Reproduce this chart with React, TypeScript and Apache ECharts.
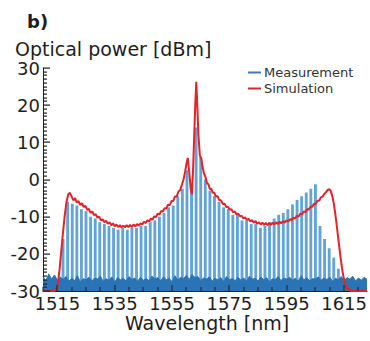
import React, { useEffect, useRef } from "react";
import * as echarts from "echarts";

const combWavelengths = [
  1517.0, 1518.6, 1520.2, 1521.8, 1523.4, 1525.0, 1526.6, 1528.2, 1529.8, 1531.4,
  1533.0, 1534.6, 1536.2, 1537.8, 1539.4, 1541.0, 1542.6, 1544.2, 1545.8, 1547.4,
  1549.0, 1550.6, 1552.2, 1553.8, 1555.4, 1557.0, 1558.6, 1560.2, 1561.8, 1563.4,
  1565.0, 1566.6, 1568.2, 1569.8, 1571.4, 1573.0, 1574.6, 1576.2, 1577.8, 1579.4,
  1581.0, 1582.6, 1584.2, 1585.8, 1587.4, 1589.0, 1590.6, 1592.2, 1593.8, 1595.4,
  1597.0, 1598.6, 1600.2, 1601.8, 1603.4, 1605.0, 1606.6, 1608.2, 1609.8, 1611.4,
  1613.0, 1614.6,
];
const combPeaks = [
  -16, -6, -6.5, -7, -8, -8.5, -10, -10.5, -11.5, -12,
  -12.5, -13, -13.5, -13, -13.5, -13, -13, -12.5, -12.5, -11.5,
  -11, -10, -9, -7.5, -7, -4.5, -2.5, 2.5, -1, 14,
  6, 0, -3, -4.5, -6, -7.5, -8, -9.5, -9, -11,
  -11, -12, -12, -13, -12.5, -11.5, -10.5, -9.5, -9, -8,
  -6.7, -5.5, -4.5, -3.5, -2.5, -1.3, -12.5, -16, -18.5, -21,
  -24, -27,
];

const floorStart = 1510;
const floorLevels = [
  -26.0, -27.3, -25.4, -26.8, -25.7, -27.1, -26.2,
  -26.9, -26.1, -27.4, -26.6, -27.2, -25.9, -27.5, -26.7, -27.0, -26.3,
  -27.3, -26.5, -26.8, -26.0, -27.4, -26.7, -27.1, -26.2, -27.6, -26.4,
  -27.0, -26.6, -27.3, -26.1, -26.9, -26.5, -27.4, -26.3, -27.1, -26.7,
  -27.2, -26.0, -26.8, -26.4, -27.3, -26.2, -27.0, -26.6, -27.5, -25.9,
  -27.1, -26.3, -26.7, -25.8, -26.9, -25.6, -26.4, -26.1, -27.2, -26.5,
  -26.8, -26.2, -27.3, -26.6, -27.0, -26.4, -27.5, -26.1, -26.9, -26.7,
  -27.2, -26.3, -27.1, -26.5, -27.4, -26.0, -26.8, -26.6, -27.3, -26.2,
  -27.0, -26.4, -27.6, -26.7, -26.9, -26.1, -27.2, -26.5, -26.8, -26.3,
  -27.1, -26.6, -27.4, -25.9, -27.0, -26.4, -27.3, -26.7, -26.8, -26.2,
  -27.1, -26.5, -26.9, -26.3, -27.4, -26.6, -27.0, -26.1, -27.2, -26.4,
  -26.8, -26.0, -27.3, -26.5, -27.1, -26.3, -26.9,
];

const simWavelengths = [
  1510, 1514, 1514.6, 1515.2, 1515.8, 1516.4, 1517.0, 1517.6, 1518.2, 1518.8,
  1519.4, 1520.0, 1520.6, 1521.2, 1521.8, 1522.4, 1523.0, 1523.6, 1524.2, 1524.8,
  1525.4, 1526.0, 1526.6, 1527.2, 1527.8, 1528.4, 1529.0, 1529.6, 1530.2, 1530.8,
  1531.4, 1532.0, 1532.6, 1533.2, 1533.8, 1534.4, 1535.0, 1535.6, 1536.2, 1536.8,
  1537.4, 1538.0, 1538.6, 1539.2, 1539.8, 1540.4, 1541.0, 1541.6, 1542.2, 1542.8,
  1543.4, 1544.0, 1544.6, 1545.2, 1545.8, 1546.4, 1547.0, 1547.6, 1548.2, 1548.8,
  1549.4, 1550.0, 1550.6, 1551.2, 1551.8, 1552.4, 1553.0, 1553.6, 1554.2, 1554.8,
  1555.4, 1556.0, 1556.6, 1557.2, 1557.8, 1558.4, 1559.0, 1559.5, 1560.0, 1560.5,
  1561.0, 1561.5, 1561.9, 1562.3, 1562.7, 1563.1, 1563.45, 1563.8, 1564.2, 1564.7,
  1565.2, 1565.7, 1566.2, 1566.7, 1567.2, 1567.7, 1568.2, 1568.7, 1569.2, 1569.7,
  1570.3, 1570.9, 1571.5, 1572.1, 1572.7, 1573.3, 1573.9, 1574.5, 1575.1, 1575.7,
  1576.3, 1576.9, 1577.5, 1578.1, 1578.7, 1579.3, 1579.9, 1580.5, 1581.1, 1581.7,
  1582.3, 1582.9, 1583.5, 1584.1, 1584.7, 1585.3, 1585.9, 1586.5, 1587.1, 1587.7,
  1588.3, 1588.9, 1589.5, 1590.1, 1590.7, 1591.3, 1591.9, 1592.5, 1593.1, 1593.7,
  1594.3, 1594.9, 1595.5, 1596.1, 1596.7, 1597.3, 1597.9, 1598.5, 1599.1, 1599.7,
  1600.3, 1600.9, 1601.5, 1602.1, 1602.7, 1603.3, 1603.9, 1604.5, 1605.1, 1605.7,
  1606.3, 1606.9, 1607.5, 1608.1, 1608.7, 1609.3, 1609.8, 1610.3, 1610.8, 1611.3,
  1611.8, 1612.3, 1612.8, 1613.3, 1613.8, 1614.3, 1614.8, 1615.3, 1615.8, 1616.3,
  1616.8, 1617.3, 1623,
];
const simPower = [
  -30, -30, -29.6, -28, -24, -19, -14, -9.5, -6, -4,
  -3.6, -4.6, -5.6, -5.0, -6.2, -5.8, -6.9, -6.4, -7.4, -7.1,
  -8.2, -7.9, -9.0, -8.6, -9.6, -9.3, -10.3, -10.0, -11.0, -10.7,
  -11.5, -11.1, -11.9, -11.5, -12.3, -11.8, -12.6, -12.1, -12.8, -12.3,
  -12.9, -12.4, -12.9, -12.3, -12.8, -12.2, -12.8, -12.1, -12.6, -12.0,
  -12.4, -11.8, -12.1, -11.4, -11.7, -11.0, -11.3, -10.5, -10.8, -9.9,
  -10.1, -9.2, -9.4, -8.5, -8.6, -7.7, -7.8, -6.8, -6.9, -5.8,
  -5.8, -4.6, -4.6, -3.3, -2.9, -1.5, 0.0, 1.8, 4.2, 5.8,
  2.0, -2.5, -4.0, 2.0, 11.0, 20.0, 26.3, 20.0, 12.0, 6.5,
  5.6, 3.2, 1.5, 0.6, -1.0, -1.3, -2.6, -2.5, -3.6, -3.5,
  -4.6, -4.5, -5.6, -5.6, -6.6, -6.5, -7.4, -7.3, -8.1, -8.0,
  -8.8, -8.6, -9.4, -9.2, -9.9, -9.8, -10.5, -10.2, -10.9, -10.6,
  -11.3, -10.9, -11.6, -11.2, -11.9, -11.5, -12.1, -11.6, -12.2, -11.7,
  -12.3, -11.7, -12.2, -11.6, -12.1, -11.5, -12.0, -11.4, -11.8, -11.2,
  -11.6, -11.0, -11.3, -10.7, -10.9, -10.3, -10.5, -9.8, -10.0, -9.2,
  -9.4, -8.6, -8.8, -8.0, -8.1, -7.3, -7.3, -6.5, -6.6, -5.7,
  -5.7, -4.8, -4.6, -3.9, -3.4, -2.8, -2.6, -3.0, -4.2, -6.0,
  -8.5, -11.5, -14.8, -18.0, -21.2, -24.0, -26.2, -27.8, -29.0, -29.7,
  -29.4, -30, -30,
];

const xTickLabels = [1515, 1535, 1555, 1575, 1595, 1615];
const xMinorTicks = [
  1510, 1515, 1520, 1525, 1530, 1535, 1540, 1545, 1550, 1555, 1560,
  1565, 1570, 1575, 1580, 1585, 1590, 1595, 1600, 1605, 1610, 1615, 1620,
];
const yTickLabels = [-30, -20, -10, 0, 10, 20, 30];
const yMinorTicks = [
  -30, -29, -28, -27, -26, -25, -24, -23, -22, -21,
  -20, -19, -18, -17, -16, -15, -14, -13, -12, -11,
  -10, -9, -8, -7, -6, -5, -4, -3, -2, -1,
  0, 1, 2, 3, 4, 5, 6, 7, 8, 9,
  10, 11, 12, 13, 14, 15, 16, 17, 18, 19,
  20, 21, 22, 23, 24, 25, 26, 27, 28, 29, 30,
];

const FONT = "DejaVu Sans";
const INK = "#1e1e1e";

export default function App() {
  const ref = useRef<HTMLDivElement>(null);
  useEffect(() => {
    if (!ref.current) return;
    const chart = echarts.init(ref.current, null, { renderer: "svg" });

    const combData = combWavelengths.map((w, i) => [w, combPeaks[i]]);
    const floorData = floorLevels.map((v, i) => [floorStart + i, v]);
    const simData = simWavelengths.map((w, i) => [w, simPower[i]]);
    const yMin = yTickLabels[0];
    const yMax = yTickLabels[yTickLabels.length - 1];
    const xMin = 1510;

    const texts = [
      { type: "text", left: 27, top: 12, style: { text: "b)", font: `bold 18px ${FONT}`, fill: INK } },
      { type: "text", left: 15, top: 39, style: { text: "Optical power [dBm]", font: `19px ${FONT}`, fill: INK } },
      { type: "text", left: 125, top: 313, style: { text: "Wavelength [nm]", font: `19px ${FONT}`, fill: INK } },
    ];

    chart.setOption({
      animation: false,
      backgroundColor: "#ffffff",
      grid: { left: 43, right: 2, top: 68, bottom: 50, containLabel: false },
      legend: {
        orient: "vertical",
        left: 248,
        top: 66,
        padding: 0,
        itemGap: 3,
        itemWidth: 13,
        itemHeight: 2,
        textStyle: { fontFamily: FONT, fontSize: 13, color: "#333", padding: [0, 0, 0, -2] },
        data: [
          { name: "Measurement", icon: "rect", itemStyle: { color: "#3b7db6" } },
          { name: "Simulation", icon: "rect", itemStyle: { color: "#d8262e" } },
        ],
      },
      xAxis: {
        type: "value",
        min: xMin,
        max: 1623,
        interval: 5,
        axisLine: { show: true, onZero: false, lineStyle: { color: INK, width: 1 } },
        axisTick: { show: false },
        axisLabel: {
          fontFamily: FONT,
          fontSize: 18,
          color: INK,
          margin: 3,
          showMinLabel: false,
          showMaxLabel: false,
          formatter: (v: number) => (xTickLabels.includes(Math.round(v)) ? String(Math.round(v)) : ""),
        },
        splitLine: { show: false },
      },
      yAxis: {
        type: "value",
        min: yMin,
        max: yMax,
        interval: 10,
        axisLine: { show: true, onZero: false, lineStyle: { color: INK, width: 1 } },
        axisTick: { show: false },
        axisLabel: { fontFamily: FONT, fontSize: 18, color: INK, margin: 3 },
        splitLine: { show: false },
      },
      graphic: texts,
      series: [
        {
          name: "Measurement",
          type: "custom",
          clip: true,
          data: combData,
          encode: { x: 0, y: 1 },
          renderItem: (params: any, api: any) => {
            const w = api.value(0);
            const p = api.value(1);
            const a = api.coord([w - 0.5, p]);
            const b = api.coord([w + 0.5, yMin]);
            return {
              type: "rect",
              shape: { x: a[0], y: a[1], width: b[0] - a[0], height: b[1] - a[1] },
              style: { fill: "#62a3d8" },
            };
          },
          z: 1,
        },
        {
          name: "floor",
          type: "line",
          data: floorData,
          symbol: "none",
          lineStyle: { color: "#2a74b6", width: 1 },
          areaStyle: { color: "#2a74b6", opacity: 1, origin: "start" },
          z: 2,
        },
        {
          name: "Simulation",
          type: "line",
          data: simData,
          symbol: "none",
          lineStyle: { color: "#e4222b", width: 2 },
          z: 3,
        },
      ],
    });

    // Tick marks placed through the chart's own axis scales
    const x0 = (chart.convertToPixel({ xAxisIndex: 0 }, xMin) as number);
    const yTicks = yMinorTicks.map((v) => {
      const py = chart.convertToPixel({ yAxisIndex: 0 }, v) as number;
      const len = v % 10 === 0 ? 7 : 4;
      return {
        type: "rect",
        z: 100,
        silent: true,
        shape: { x: x0, y: Math.round(py) - 0.5, width: len, height: 1.2 },
        style: { fill: INK },
      };
    });
    const xTicks = xMinorTicks.map((v) => {
      const p = chart.convertToPixel({ gridIndex: 0 }, [v, yMin]) as number[];
      const len = xTickLabels.includes(v) ? 6 : 4;
      return {
        type: "rect",
        z: 100,
        silent: true,
        shape: { x: Math.round(p[0]) - 0.5, y: p[1] - len, width: 1, height: len },
        style: { fill: INK },
      };
    });
    chart.setOption({ graphic: [...texts, ...yTicks, ...xTicks] });

    return () => chart.dispose();
  }, []);
  return (
    <div
      ref={ref}
      style={{ position: "absolute", left: 0, top: 0, width: 370, height: 341 }}
    />
  );
}
